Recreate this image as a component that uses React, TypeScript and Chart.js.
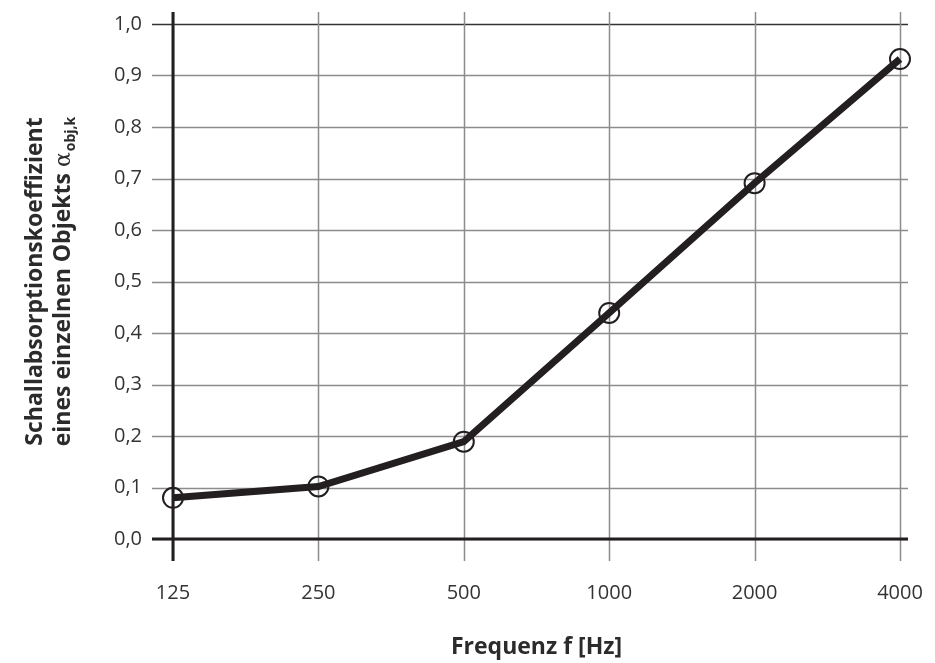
import React, { useEffect, useRef } from "react";
import { Chart, registerables } from "chart.js";

Chart.register(...registerables);

const categories = ["125", "250", "500", "1000", "2000", "4000"];
const absorption = [0.08, 0.102, 0.189, 0.439, 0.691, 0.932];
const yTicks = [0, 0.1, 0.2, 0.3, 0.4, 0.5, 0.6, 0.7, 0.8, 0.9, 1.0];
const xTitle = "Frequenz f [Hz]";
const yTitleLine1 = "Schallabsorptionskoeffizient";
const yTitleLine2 = "eines einzelnen Objekts ";
const yTitleSymbol = "α";
const yTitleSub = "obj,k";

const FONT = "'Open Sans', 'Noto Sans', sans-serif";
const INK = "#231f20";
const GRID = "#8c8c8c";

const framePlugin = {
  id: "frame",
  beforeDatasetsDraw(chart: any) {
    const { ctx, chartArea, scales } = chart;
    const x = scales.x;
    const y = scales.y;
    const left = chartArea.left;
    const right = chartArea.right;
    const top = chartArea.top;
    const bottom = chartArea.bottom;
    ctx.save();
    yTicks.forEach((v) => {
      const py = Math.round(y.getPixelForValue(v)) + 0.5;
      ctx.beginPath();
      ctx.strokeStyle = v === 1 ? "#333" : GRID;
      ctx.lineWidth = 1.5;
      ctx.moveTo(left - 21, py);
      ctx.lineTo(right + 8, py);
      ctx.stroke();
    });
    categories.forEach((c, i) => {
      const px = Math.round(x.getPixelForValue(i)) + 0.5;
      ctx.beginPath();
      ctx.strokeStyle = GRID;
      ctx.lineWidth = 1.5;
      ctx.moveTo(px, top - 12);
      ctx.lineTo(px, bottom + 22);
      ctx.stroke();
    });
    ctx.strokeStyle = INK;
    ctx.lineWidth = 3;
    ctx.beginPath();
    ctx.moveTo(left, top - 12);
    ctx.lineTo(left, bottom + 22);
    ctx.stroke();
    ctx.beginPath();
    const y0 = y.getPixelForValue(0);
    ctx.moveTo(left - 21, y0);
    ctx.lineTo(right + 8, y0);
    ctx.stroke();
    ctx.restore();
  },
  afterDraw(chart: any) {
    const { ctx, chartArea } = chart;
    const cx = (chartArea.left + chartArea.right) / 2;
    const cy = (chartArea.top + chartArea.bottom) / 2;
    const mainFont = `bold 23px ${FONT}`;
    const symFont = `22px 'DejaVu Serif', serif`;
    const subFont = `bold 14px ${FONT}`;
    ctx.save();
    ctx.fillStyle = "#2b2b2b";
    ctx.font = mainFont;
    ctx.textAlign = "center";
    ctx.textBaseline = "alphabetic";
    ctx.fillText(xTitle, cx, 654);

    ctx.translate(42, cy);
    ctx.rotate(-Math.PI / 2);
    ctx.fillText(yTitleLine1, 0, 0);
    ctx.font = mainFont;
    const w1 = ctx.measureText(yTitleLine2).width;
    ctx.font = symFont;
    const w2 = ctx.measureText(yTitleSymbol).width;
    ctx.font = subFont;
    const w3 = ctx.measureText(yTitleSub).width;
    const total = w1 + w2 + w3 + 1;
    let sx = -total / 2;
    ctx.textAlign = "left";
    ctx.font = mainFont;
    ctx.fillText(yTitleLine2, sx, 28);
    sx += w1;
    ctx.font = symFont;
    ctx.fillText(yTitleSymbol, sx, 28);
    sx += w2 + 1;
    ctx.font = subFont;
    ctx.fillText(yTitleSub, sx, 33);
    ctx.restore();
  },
};

export default function App() {
  const ref = useRef<HTMLCanvasElement | null>(null);
  useEffect(() => {
    if (!ref.current) return;
    const chart = new Chart(ref.current, {
      type: "line",
      data: {
        labels: categories,
        datasets: [
          {
            data: absorption,
            borderColor: INK,
            borderWidth: 7,
            tension: 0,
            fill: false,
            clip: false,
            pointRadius: 10,
            pointHoverRadius: 10,
            pointBorderWidth: 2,
            pointBorderColor: INK,
            pointBackgroundColor: "rgba(0,0,0,0)",
          },
        ],
      },
      options: {
        responsive: false,
        animation: false,
        events: [],
        layout: { padding: { top: 24, right: 35, left: 0, bottom: 0 } },
        plugins: { legend: { display: false }, tooltip: { enabled: false } },
        scales: {
          x: {
            type: "category",
            offset: false,
            grid: { display: false, drawTicks: false },
            border: { display: false },
            afterFit: (s: any) => {
              s.height = 124;
              s.paddingLeft = 0;
              s.paddingRight = 0;
              s.paddingTop = 0;
              s.paddingBottom = 0;
            },
            ticks: {
              padding: 42,
              color: "#333",
              font: { family: FONT, size: 20 },
              maxRotation: 0,
              autoSkip: false,
            },
          },
          y: {
            min: 0,
            max: 1,
            grid: { display: false, drawTicks: false },
            border: { display: false },
            afterFit: (s: any) => {
              s.width = 173;
              s.paddingLeft = 0;
              s.paddingRight = 0;
              s.paddingTop = 0;
              s.paddingBottom = 0;
            },
            ticks: {
              stepSize: 0.1,
              padding: 31,
              color: "#333",
              font: { family: FONT, size: 20 },
              callback: (v: any) => Number(v).toFixed(1).replace(".", ","),
            },
          },
        },
      },
      plugins: [framePlugin],
    });
    return () => chart.destroy();
  }, []);
  return (
    <div style={{ position: "absolute", left: 0, top: 0, width: 935, height: 663, background: "#fff" }}>
      <canvas ref={ref} width={935} height={663} style={{ display: "block", width: 935, height: 663 }} />
    </div>
  );
}
